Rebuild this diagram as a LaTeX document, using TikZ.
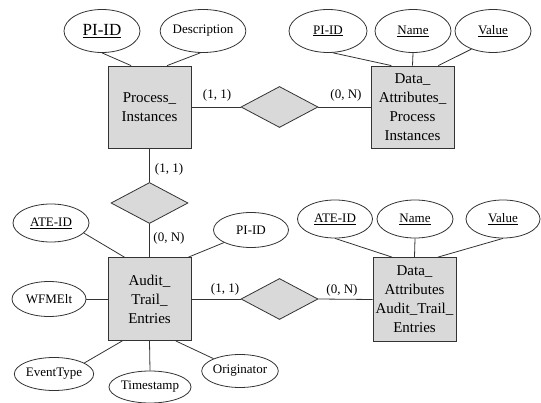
\documentclass[tikz,border=0pt]{standalone}
\usepackage{fontspec}
\setmainfont{Liberation Serif}
\usetikzlibrary{shapes.geometric}

\begin{document}
\begin{tikzpicture}[x=1pt,y=-1pt,line width=0.8pt,
    entity/.style={draw=black!80,fill=gray!30,minimum width=83pt,minimum height=82pt,
        inner sep=0pt,align=center,font=\fontsize{15}{19}\selectfont},
    attr/.style={draw=black!80,ellipse,fill=white,minimum width=76pt,minimum height=38pt,
        inner sep=0pt,font=\fontsize{13}{15}\selectfont},
    rel/.style={draw=black!80,diamond,fill=gray!30,minimum width=77pt,minimum height=41pt,inner sep=0pt},
    card/.style={font=\fontsize{13}{15}\selectfont},
    link/.style={draw=black!80}]

    \useasboundingbox (0,0) rectangle (541,403);

    % Process instances
    \node[entity] (pi) at (149.5,107) {Process\_\\Instances};
    \node[attr,minimum height=43pt,font=\fontsize{17}{19}\selectfont] (piid) at (102,31) {\underline{PI-ID}};
    \node[attr,minimum height=43pt] (pidesc) at (203,31) {Description};

    % Data attributes of process instances
    \node[entity] (dapi) at (412.5,107) {Data\_\\Attributes\_\\Process\\Instances};
    \node[attr,minimum width=78pt,minimum height=43pt] (dapiid) at (328,31) {\underline{PI-ID}};
    \node[attr,minimum height=43pt] (dapiname) at (413,31) {\underline{Name}};
    \node[attr,minimum height=43pt] (dapival) at (493,31) {\underline{Value}};

    % Relationships
    \node[rel] (pirel) at (279.5,107) {};
    \node[rel] (atrel) at (149.5,203) {};
    \node[rel] (aterel) at (279.5,299) {};

    % Audit trail entries
    \node[entity,minimum height=83pt] (ate) at (149.5,299) {Audit\_\\Trail\_\\Entries};
    \node[attr] (ateid) at (51,223) {\underline{ATE-ID}};
    \node[attr,minimum width=75pt,minimum height=35pt] (atepi) at (251,230) {PI-ID};
    \node[attr,minimum width=74pt,minimum height=35pt] (wfm) at (49,299) {WFMElt};
    \node[attr,minimum width=75pt,minimum height=33pt] (evt) at (54,374) {EventType};
    \node[attr,minimum width=76pt,minimum height=32pt] (tstamp) at (150,387) {Timestamp};
    \node[attr,minimum width=75pt,minimum height=33pt] (orig) at (240,371) {Originator};

    % Data attributes of audit trail entries
    \node[entity,minimum height=84pt] (daate) at (414.5,299.5) {Data\_\\Attributes\\Audit\_Trail\_\\Entries};
    \node[attr,minimum width=75pt] (daateid) at (335,219) {\underline{ATE-ID}};
    \node[attr] (daatename) at (415,219) {\underline{Name}};
    \node[attr,minimum width=74pt] (daateval) at (503,219) {\underline{Value}};

    % Cardinalities
    \node[card] (c1) at (217,95) {(1, 1)};
    \node[card] (c2) at (346,95) {(0, N)};
    \node[card] (c3) at (169,169) {(1, 1)};
    \node[card] (c4) at (169,238) {(0, N)};
    \node[card] (c5) at (225,289) {(1, 1)};
    \node[card] (c6) at (342,290) {(0, N)};

    % Links
    \draw[link] (piid.south) -- (pi.114);
    \draw[link] (pidesc.263) -- (pi.67);
    \draw[link] (pi.east) -- (pirel.west);
    \draw[link] (pirel.east) -- (dapi.west);
    \draw[link] (dapiid.282) -- (dapi.117);
    \draw[link] (dapiname.south) -- (dapi.north);
    \draw[link] (dapival.220) -- (dapi.58);

    \draw[link] (pi.south) -- (atrel.north);
    \draw[link] (atrel.south) -- (ate.north);

    \draw[link] (ateid.343) -- (ate.121);
    \draw[link] (atepi.205) -- (ate.47);
    \draw[link] (wfm.east) -- (ate.west);
    \draw[link] (evt.20) -- (ate.237);
    \draw[link] (tstamp.north) -- (ate.south);
    \draw[link] (orig.155) -- (ate.302);
    \draw[link] (ate.east) -- (aterel.west);
    \draw[link] (aterel.east) -- (daate.west);

    \draw[link] (daateid.south) -- (daate.118);
    \draw[link] (daatename.south) -- (daate.north);
    \draw[link] (daateval.south) -- (daate.61);

\end{tikzpicture}
\end{document}
